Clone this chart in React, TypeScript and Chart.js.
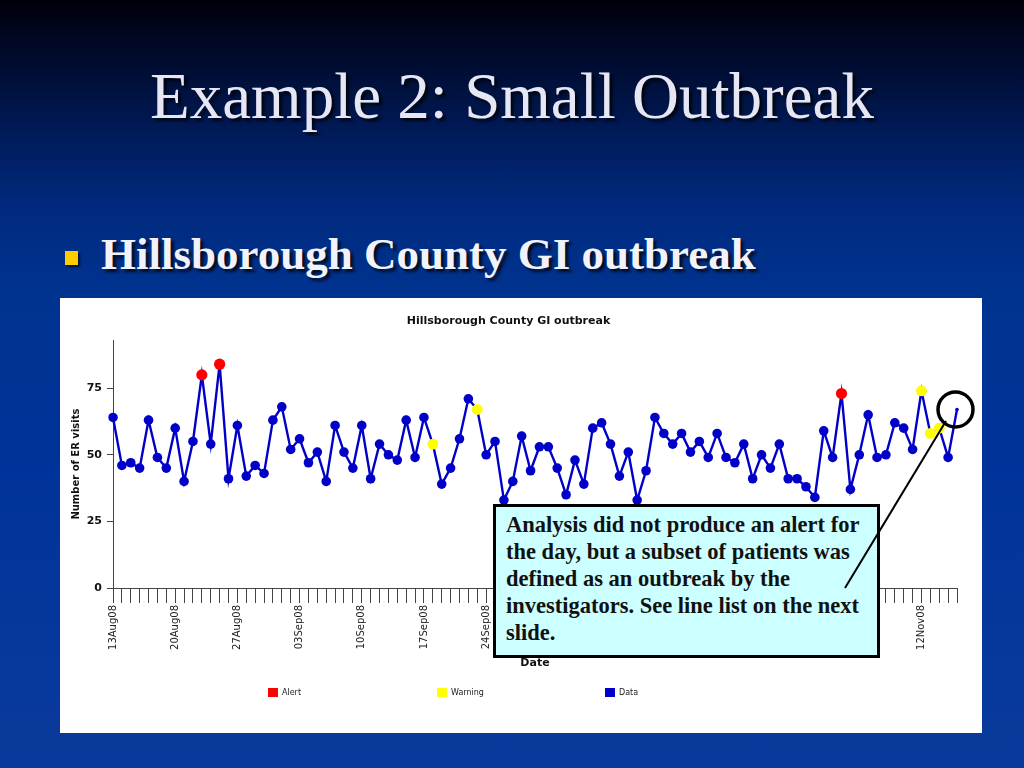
import React, { useEffect, useRef } from "react";
import { Chart, registerables } from "chart.js";

Chart.register(...registerables);

// ---------- data ----------
const dates = [
  "13Aug08", "14Aug08", "15Aug08", "16Aug08", "17Aug08", "18Aug08", "19Aug08", "20Aug08", "21Aug08", "22Aug08",
  "23Aug08", "24Aug08", "25Aug08", "26Aug08", "27Aug08", "28Aug08", "29Aug08", "30Aug08", "31Aug08",
  "01Sep08", "02Sep08", "03Sep08", "04Sep08", "05Sep08", "06Sep08", "07Sep08", "08Sep08", "09Sep08", "10Sep08",
  "11Sep08", "12Sep08", "13Sep08", "14Sep08", "15Sep08", "16Sep08", "17Sep08", "18Sep08", "19Sep08", "20Sep08",
  "21Sep08", "22Sep08", "23Sep08", "24Sep08", "25Sep08", "26Sep08", "27Sep08", "28Sep08", "29Sep08", "30Sep08",
  "01Oct08", "02Oct08", "03Oct08", "04Oct08", "05Oct08", "06Oct08", "07Oct08", "08Oct08", "09Oct08", "10Oct08",
  "11Oct08", "12Oct08", "13Oct08", "14Oct08", "15Oct08", "16Oct08", "17Oct08", "18Oct08", "19Oct08", "20Oct08",
  "21Oct08", "22Oct08", "23Oct08", "24Oct08", "25Oct08", "26Oct08", "27Oct08", "28Oct08", "29Oct08", "30Oct08",
  "31Oct08",
  "01Nov08", "02Nov08", "03Nov08", "04Nov08", "05Nov08", "06Nov08", "07Nov08", "08Nov08", "09Nov08", "10Nov08",
  "11Nov08", "12Nov08", "13Nov08", "14Nov08", "15Nov08", "16Nov08",
];

const visits = [
  64, 46, 47, 45, 63, 49, 45, 60, 40, 55,
  80, 54, 84, 41, 61, 42, 46, 43, 63, 68,
  52, 56, 47, 51, 40, 61, 51, 45, 61, 41,
  54, 50, 48, 63, 49, 64, 54, 39, 45, 56,
  71, 67, 50, 55, 33, 40, 57, 44, 53, 53,
  45, 35, 48, 39, 60, 62, 54, 42, 51, 33,
  44, 64, 58, 54, 58, 51, 55, 49, 58, 49,
  47, 54, 41, 50, 45, 54, 41, 41, 38, 34,
  59, 49, 73, 37, 50, 65, 49, 50, 62, 60,
  52, 74, 58, 60, 49, 67,
];

const alertDates = ["23Aug08", "25Aug08", "03Nov08"];
const warningDates = ["18Sep08", "23Sep08", "12Nov08", "13Nov08", "14Nov08"];

const yTicks = [0, 25, 50, 75];
const yMax = 93;
const labelEvery = 7;

const chartTitle = "Hillsborough County GI outbreak";
const yTitle = "Number of ER visits";
const xTitle = "Date";

const BLUE = "#0000c8";
const RED = "#ff0000";
const YELLOW = "#ffff00";

const legendX = [208, 377, 545];

const slideLegend = {
  id: "slideLegend",
  afterDraw(chart: any) {
    const ctx = chart.ctx;
    ctx.save();
    chart.data.datasets.forEach((ds: any, i: number) => {
      const x = legendX[i];
      const y = 390;
      ctx.fillStyle = ds.legendColor;
      ctx.fillRect(x, y, 10, 9);
      ctx.fillStyle = "#222";
      ctx.font = "8px 'DejaVu Sans'";
      ctx.textBaseline = "middle";
      ctx.textAlign = "left";
      ctx.fillText(ds.label, x + 14, y + 4.5);
    });
    ctx.restore();
  },
};

function ChartBox() {
  const ref = useRef<HTMLCanvasElement | null>(null);
  useEffect(() => {
    if (!ref.current) return;
    const alertData = dates.map((d, i) => (alertDates.includes(d) ? visits[i] : null));
    const warnData = dates.map((d, i) => (warningDates.includes(d) ? visits[i] : null));
    const radii = dates.map((_, i) => (i === dates.length - 1 ? 1.8 : 4.8));
    const chart = new Chart(ref.current, {
      type: "line",
      data: {
        labels: dates,
        datasets: [
          {
            label: "Alert",
            data: alertData,
            showLine: false,
            pointRadius: 5.6,
            pointBackgroundColor: RED,
            pointBorderWidth: 0,
            borderColor: RED,
            legendColor: RED,
          } as any,
          {
            label: "Warning",
            data: warnData,
            showLine: false,
            pointRadius: 5.4,
            pointBackgroundColor: YELLOW,
            pointBorderWidth: 0,
            borderColor: YELLOW,
            legendColor: YELLOW,
          } as any,
          {
            label: "Data",
            data: visits,
            borderColor: BLUE,
            borderWidth: 2.4,
            pointRadius: radii,
            pointBackgroundColor: BLUE,
            pointBorderWidth: 0,
            tension: 0,
            legendColor: BLUE,
          } as any,
        ],
      },
      options: {
        animation: false,
        responsive: true,
        maintainAspectRatio: false,
        layout: { padding: { left: 0, right: 25, top: 0, bottom: 60 } },
        plugins: {
          legend: { display: false },
          tooltip: { enabled: false },
          title: {
            display: true,
            text: chartTitle,
            color: "#111",
            font: { family: "'DejaVu Sans'", size: 11, weight: "bold" },
            padding: { top: 17, bottom: 12 },
          },
        },
        scales: {
          x: {
            type: "category",
            offset: false,
            border: { display: true, color: "#444", width: 1 },
            grid: {
              display: true,
              drawOnChartArea: false,
              drawTicks: true,
              tickLength: 15,
              color: "#444",
            },
            ticks: {
              autoSkip: false,
              maxRotation: 90,
              minRotation: 90,
              padding: 2,
              color: "#222",
              font: { family: "'DejaVu Sans'", size: 10 },
              callback: (_v: any, i: number) => (i % labelEvery === 0 ? dates[i] : ""),
            },
            title: {
              display: true,
              text: xTitle,
              color: "#111",
              font: { family: "'DejaVu Sans'", size: 11, weight: "bold" },
              padding: { top: 0, bottom: 3 },
            },
            afterFit: (s: any) => {
              s.height = 85;
              s.paddingLeft = 0;
              s.paddingRight = 0;
            },
          },
          y: {
            min: 0,
            max: yMax,
            border: { display: true, color: "#444", width: 1 },
            grid: {
              display: true,
              drawOnChartArea: false,
              drawTicks: true,
              tickLength: 6,
              color: "#444",
            },
            afterBuildTicks: (s: any) => {
              s.ticks = yTicks.map((v) => ({ value: v }));
            },
            ticks: {
              padding: 5,
              color: "#111",
              font: { family: "'DejaVu Sans'", size: 11, weight: "bold" },
            },
            title: {
              display: true,
              text: yTitle,
              color: "#111",
              font: { family: "'DejaVu Sans'", size: 10, weight: "bold" },
              padding: { top: 10, bottom: 0 },
            },
            afterFit: (s: any) => {
              s.width = 53;
              s.paddingTop = 0;
              s.paddingBottom = 0;
            },
          },
        },
      },
      plugins: [slideLegend],
    } as any);
    return () => chart.destroy();
  }, []);
  return (
    <div style={{ position: "absolute", left: 60, top: 298, width: 922, height: 435, background: "#fff" }}>
      <canvas ref={ref} />
    </div>
  );
}

export default function App() {
  const shadow = "3px 3px 3px rgba(0,0,0,0.75)";
  return (
    <div
      style={{
        position: "fixed",
        left: 0,
        top: 0,
        width: 1024,
        height: 768,
        overflow: "hidden",
        background:
          "linear-gradient(180deg, #00000c 0%, #000f38 10%, #001c5c 18%, #002a7e 27%, #003390 38%, #003399 60%, #0a3a9c 100%)",
      }}
    >
      <div
        style={{
          position: "absolute",
          left: 0,
          width: 1024,
          top: 64,
          textAlign: "center",
          fontFamily: "'Liberation Serif', 'Times New Roman', serif",
          fontSize: 65,
          lineHeight: "65px",
          color: "#e6e6f4",
          textShadow: shadow,
          whiteSpace: "nowrap",
        }}
      >
        Example 2: Small Outbreak
      </div>
      <div
        style={{
          position: "absolute",
          left: 65,
          top: 251,
          width: 13,
          height: 14,
          background: "#ffcc00",
          boxShadow: "2px 2px 2px rgba(0,0,0,0.6)",
        }}
      />
      <div
        style={{
          position: "absolute",
          left: 101,
          top: 232,
          fontFamily: "'Liberation Serif', 'Times New Roman', serif",
          fontWeight: "bold",
          fontSize: 45,
          lineHeight: "45px",
          color: "#f2f2fa",
          textShadow: shadow,
          whiteSpace: "nowrap",
        }}
      >
        Hillsborough County GI outbreak
      </div>
      <ChartBox />
      <div
        style={{
          position: "absolute",
          left: 493,
          top: 504,
          width: 381,
          height: 148,
          border: "3px solid #000",
          background: "#ccffff",
          boxSizing: "content-box",
          fontFamily: "'Liberation Serif', 'Times New Roman', serif",
          fontWeight: "bold",
          fontSize: 22.5,
          lineHeight: "27px",
          color: "#111",
          whiteSpace: "nowrap",
        }}
      >
        <div style={{ position: "absolute", left: 10, top: 4 }}>
          Analysis did not produce an alert for
          <br />
          the day, but a subset of patients was
          <br />
          defined as an outbreak by the
          <br />
          investigators. See line list on the next
          <br />
          slide.
        </div>
      </div>
      <svg
        width={1024}
        height={768}
        style={{ position: "absolute", left: 0, top: 0, pointerEvents: "none" }}
      >
        <line x1={845} y1={588} x2={946} y2={421} stroke="#000" strokeWidth={2} />
        <circle cx={955.5} cy={409.5} r={17.5} fill="none" stroke="#000" strokeWidth={3.5} />
      </svg>
    </div>
  );
}
